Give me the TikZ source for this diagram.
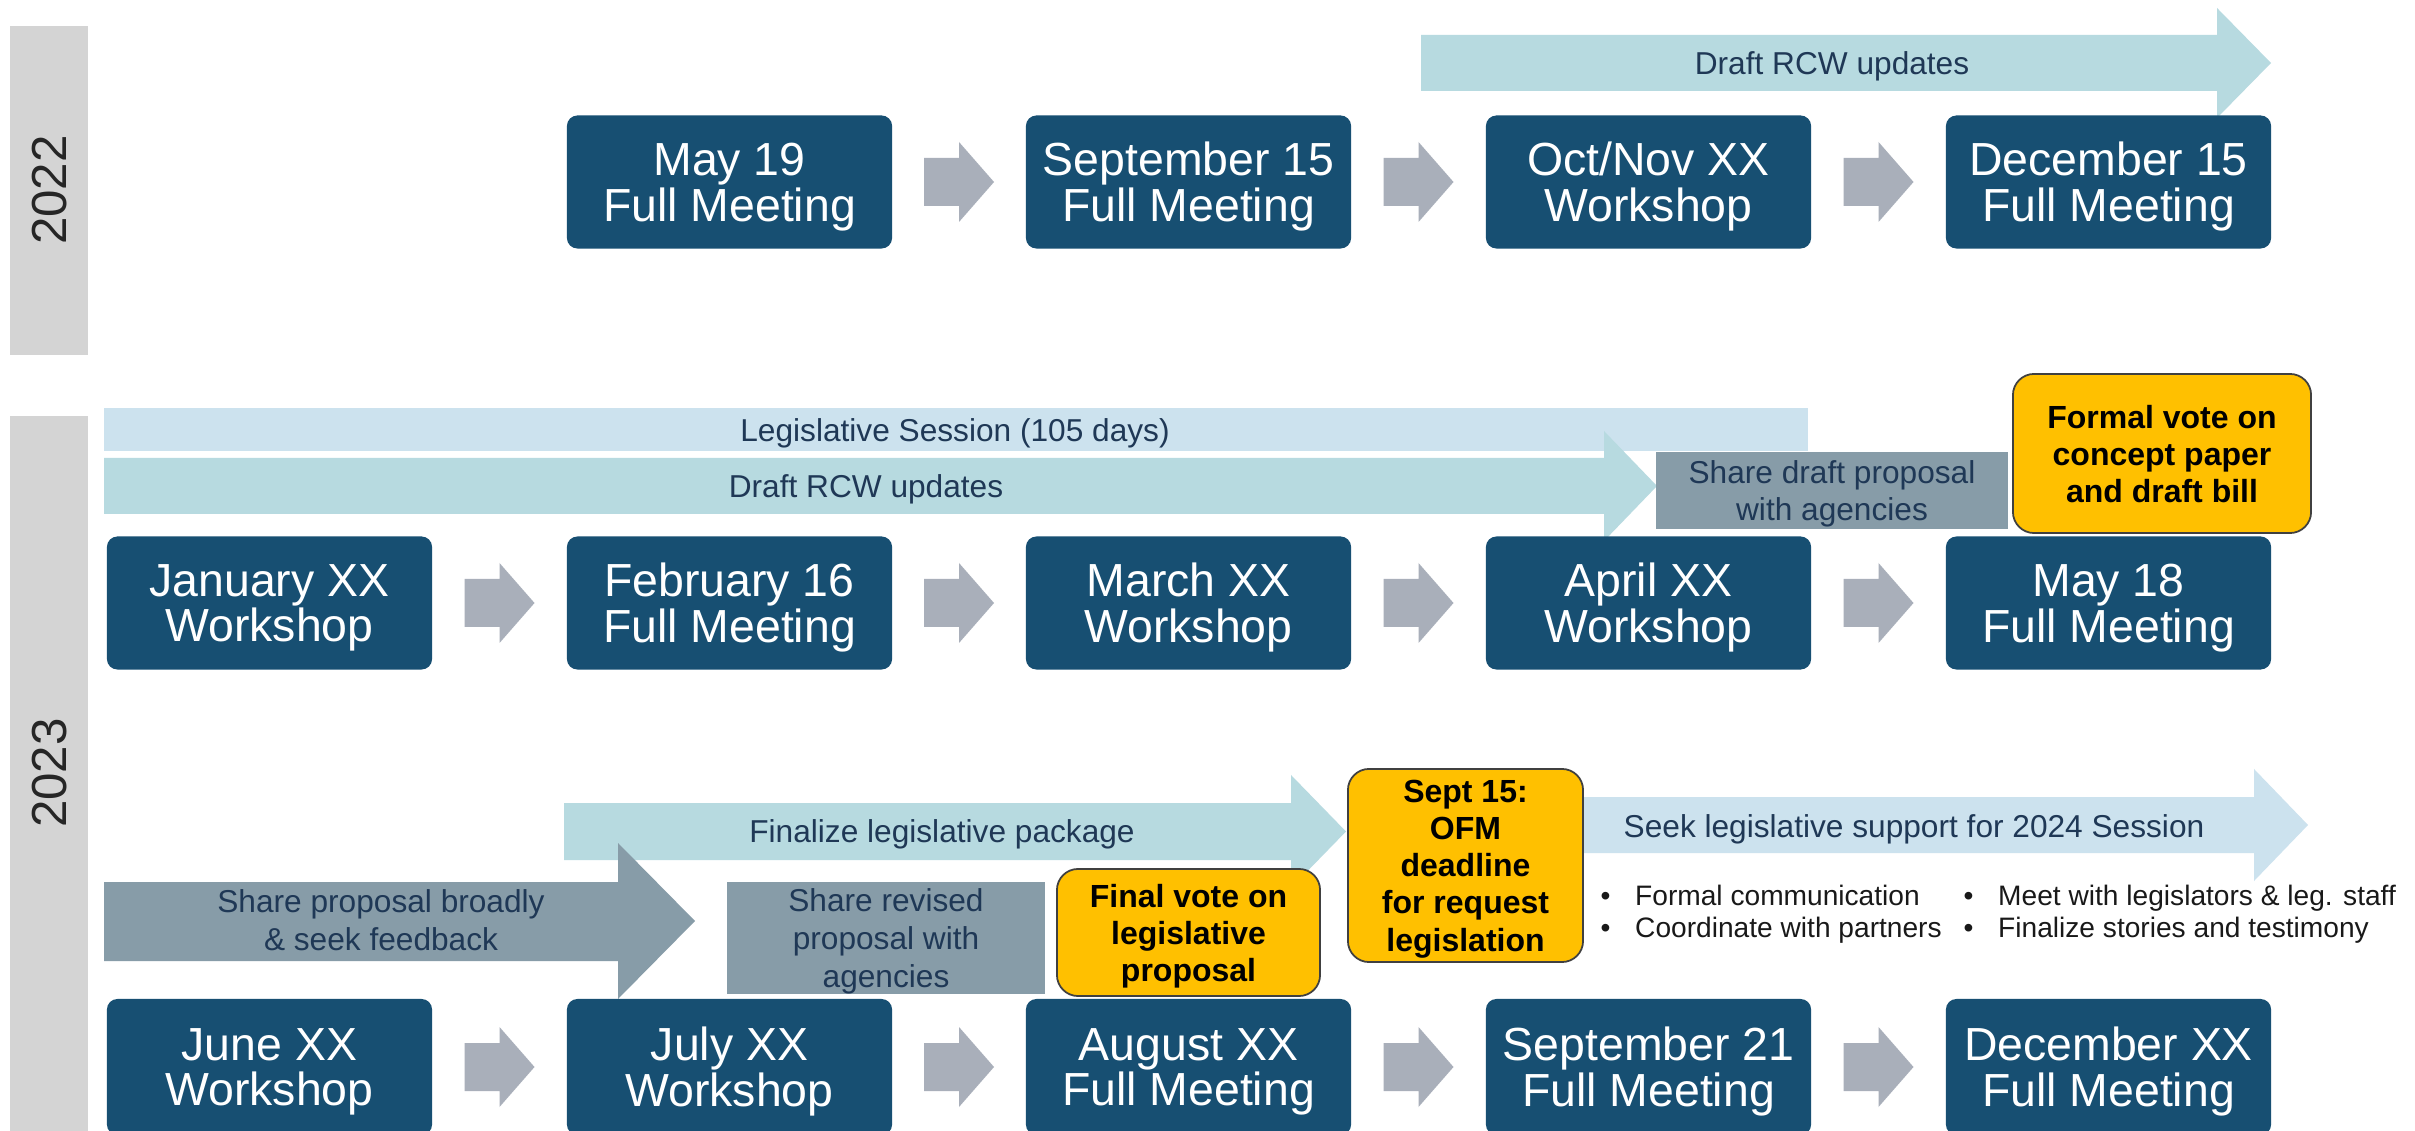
\documentclass[tikz,border=0pt]{standalone}
\usepackage{fontspec}
\setmainfont{Liberation Sans}
\usetikzlibrary{calc}
\definecolor{navy}{RGB}{23,79,114}
\definecolor{yeargray}{RGB}{212,212,212}
\definecolor{chevgray}{RGB}{169,175,186}
\definecolor{tealbar}{RGB}{183,218,224}
\definecolor{lightbar}{RGB}{204,226,238}
\definecolor{graybox}{RGB}{135,156,168}
\definecolor{goldfill}{RGB}{255,192,0}
\definecolor{bartext}{RGB}{31,56,86}
\tikzset{
  navybox/.style={fill=navy, rounded corners=3pt, minimum width=3.25cm, minimum height=1.33cm,
    inner sep=0pt, text=white, align=center, font=\fontsize{13.2}{13}\selectfont, text depth=0pt},
  navylow/.style={navybox, minimum height=1.36cm},
  bartxt/.style={inner sep=0pt, text=bartext, font=\fontsize{9}{10.7}\selectfont, text depth=0pt},
  grayrect/.style={fill=graybox, inner sep=0pt, text=bartext, align=center,
    font=\fontsize{9}{10.3}\selectfont, text depth=0pt},
  goldbox/.style={fill=goldfill, draw=black!75, line width=0.5pt, rounded corners=6pt, inner sep=0pt,
    align=center, font=\bfseries\fontsize{9.1}{10.5}\selectfont, text depth=0pt},
  bullettxt/.style={inner sep=0pt, anchor=west, align=left, text=black!90,
    font=\fontsize{8}{9.1}\selectfont, text depth=0pt},
  yeartxt/.style={rotate=90, inner sep=0pt, text=black!85, font=\fontsize{14}{14}\selectfont},
  chev/.pic={\fill[chevgray] (-35,-24) -- (0,-24) -- (0,-40) -- (35,0) -- (0,40) -- (0,24) -- (-35,24) -- cycle;}
}
\newcommand{\bul}[1]{\makebox[0.345cm][l]{\textbullet}#1}
\begin{document}
\begin{tikzpicture}[x=0.01cm,y=-0.01cm]
\useasboundingbox (0,0) rectangle (2415,1131);
\clip (0,0) rectangle (2415,1131);
\fill[white] (0,0) rectangle (2415,1131);

% year bars
\fill[yeargray] (10,26) rectangle (88,355);
\fill[yeargray] (10,416) rectangle (88,1140);
\node[yeartxt] (y22) at (49.5,190) {2022};
\node[yeartxt] (y23) at (49.5,773) {2023};

% bars and big arrows
\fill[tealbar] (1421,35) -- (2217,35) -- (2217,8) -- (2271,63) -- (2217,118) -- (2217,91) -- (1421,91) -- cycle;
\fill[lightbar] (104,408) rectangle (1808,451);
\fill[tealbar] (104,458) -- (1604,458) -- (1604,431) -- (1657,486) -- (1604,541) -- (1604,514) -- (104,514) -- cycle;
\fill[tealbar] (564,803) -- (1291,803) -- (1291,775) -- (1346,831.5) -- (1291,888) -- (1291,860) -- (564,860) -- cycle;
\fill[graybox] (104,882) -- (618,882) -- (618,843) -- (695,921) -- (618,999) -- (618,961) -- (104,961) -- cycle;
\fill[lightbar] (1560,797) -- (2254,797) -- (2254,769) -- (2308,825) -- (2254,881) -- (2254,853) -- (1560,853) -- cycle;

\node[bartxt] (t1) at (1832,63) {Draft RCW updates};
\node[bartxt] (t2) at (955,430) {Legislative Session (105 days)};
\node[bartxt] (t3) at (866,486) {Draft RCW updates};
\node[bartxt] (t4) at (942,831) {Finalize legislative package};
\node[bartxt, align=center, font=\fontsize{9}{10.8}\selectfont] (t5) at (381,920) {Share proposal broadly\\\& seek feedback};
\node[bartxt] (t6) at (1914,826) {Seek legislative support for 2024 Session};

% row 1 (2022)
\node[navybox] (r1b) at (729.5,182) {May 19\\Full Meeting};
\node[navybox] (r1c) at (1188.5,182) {September 15\\Full Meeting};
\node[navybox] (r1d) at (1648.5,182) {Oct/Nov XX\\Workshop};
\node[navybox] (r1e) at (2108.5,182) {December 15\\Full Meeting};

% row 2
\node[navybox] (r2a) at (269.5,603) {January XX\\Workshop};
\node[navybox] (r2b) at (729.5,603) {February 16\\Full Meeting};
\node[navybox] (r2c) at (1188.5,603) {March XX\\Workshop};
\node[navybox] (r2d) at (1648.5,603) {April XX\\Workshop};
\node[navybox] (r2e) at (2108.5,603) {May 18\\Full Meeting};

% row 3
\node[navylow] (r3a) at (269.5,1067) {June XX\\Workshop};
\node[navylow] (r3b) at (729.5,1067) {July XX\\Workshop};
\node[navylow] (r3c) at (1188.5,1067) {August XX\\Full Meeting};
\node[navylow] (r3d) at (1648.5,1067) {September 21\\Full Meeting};
\node[navylow] (r3e) at (2108.5,1067) {December XX\\Full Meeting};

% chevrons
\foreach \a/\b in {r1b/r1c, r1c/r1d, r1d/r1e, r2a/r2b, r2b/r2c, r2c/r2d, r2d/r2e, r3a/r3b, r3b/r3c, r3c/r3d, r3d/r3e}
  \path ($(\a.east)!0.5!(\b.west)$) pic {chev};

% gray boxes
\node[grayrect, minimum width=3.52cm, minimum height=0.77cm] (sd) at (1832,490.5) {Share draft proposal\\with agencies};
\node[grayrect, minimum width=3.18cm, minimum height=1.12cm, font=\fontsize{9}{10.7}\selectfont] (sr) at (886,938) {Share revised\\proposal with\\agencies};

% gold boxes
\node[goldbox, minimum width=2.98cm, minimum height=1.59cm] (fv) at (2162,453.5) {Formal vote on\\concept paper\\and draft bill};
\node[goldbox, minimum width=2.63cm, minimum height=1.27cm] (lv) at (1188.5,932.5) {Final vote on\\legislative\\proposal};
\node[goldbox, minimum width=2.35cm, minimum height=1.93cm, font=\bfseries\fontsize{9.1}{10.6}\selectfont] (ofm) at (1465.5,865.5) {Sept 15:\\OFM\\deadline\\for request\\legislation};

% bullets
\node[bullettxt] (b1) at (1600,911) {\bul{Formal communication}\\\bul{Coordinate with partners}};
\node[bullettxt] (b2) at (1963,911) {\bul{Meet with legislators \& leg. staff}\\\bul{Finalize stories and testimony}};
\end{tikzpicture}
\end{document}
